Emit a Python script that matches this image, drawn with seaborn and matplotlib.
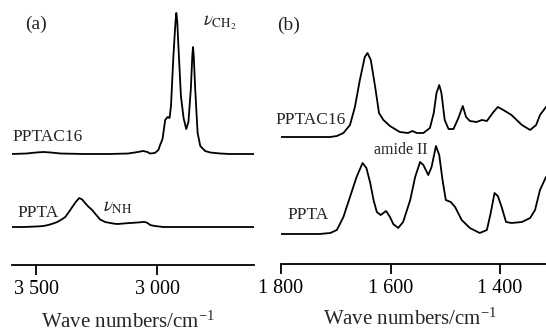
import matplotlib
matplotlib.use("Agg")
import matplotlib.pyplot as plt
import matplotlib.ticker as mticker
import seaborn as sns

# (a) high wavenumber region (a.u. above baseline)
a_wn_pptac16 = [3600, 3540, 3500, 3470, 3440, 3400, 3300, 3200, 3120, 3080, 3058, 3040,
                3030, 3010, 2995, 2988, 2978, 2967, 2957, 2949, 2943, 2933, 2925, 2921,
                2917, 2912, 2902, 2891, 2880, 2871, 2861, 2855, 2852, 2849, 2843, 2833,
                2822, 2802, 2781, 2740, 2700, 2650, 2600]
a_abs_pptac16 = [0.0, 0.005, 0.015, 0.02, 0.015, 0.005, 0.0, 0.0, 0.005, 0.02, 0.03, 0.02,
                 0.005, 0.01, 0.04, 0.09, 0.15, 0.34, 0.37, 0.36, 0.48, 0.98, 1.30, 1.41,
                 1.32, 1.06, 0.58, 0.36, 0.25, 0.32, 0.65, 0.98, 1.07, 0.98, 0.65, 0.21,
                 0.08, 0.03, 0.015, 0.005, 0.0, 0.0, 0.0]
a_wn_ppta = [3600, 3550, 3500, 3470, 3450, 3430, 3413, 3395, 3380, 3365, 3351, 3335,
             3322, 3310, 3298, 3285, 3269, 3250, 3236, 3215, 3194, 3175, 3161, 3140,
             3112, 3080, 3060, 3050, 3040, 3029, 3010, 2975, 2900, 2800, 2700, 2600]
a_abs_ppta = [0.0, 0.0, 0.005, 0.01, 0.02, 0.035, 0.05, 0.075, 0.10, 0.15, 0.20, 0.255,
              0.29, 0.275, 0.24, 0.205, 0.17, 0.115, 0.075, 0.05, 0.04, 0.032, 0.03, 0.035,
              0.04, 0.045, 0.05, 0.05, 0.04, 0.02, 0.01, 0.0, 0.0, 0.0, 0.0, 0.0]

# (b) fingerprint region
b_wn_pptac16 = [1800, 1760, 1730, 1710, 1698, 1686, 1674, 1665, 1656, 1647, 1642, 1636,
                1628, 1621, 1613, 1601, 1583, 1568, 1560, 1552, 1540, 1528, 1521, 1516,
                1511, 1507, 1501, 1494, 1485, 1476, 1468, 1462, 1455, 1443, 1433, 1424,
                1412, 1404, 1394, 1379, 1360, 1345, 1334, 1327, 1316]
b_abs_pptac16 = [0.0, 0.0, 0.0, 0.0, 0.01, 0.04, 0.12, 0.30, 0.57, 0.80, 0.84, 0.77,
                 0.50, 0.24, 0.17, 0.11, 0.05, 0.04, 0.06, 0.04, 0.04, 0.09, 0.24, 0.44,
                 0.52, 0.44, 0.17, 0.08, 0.08, 0.19, 0.31, 0.20, 0.16, 0.15, 0.17, 0.16,
                 0.25, 0.30, 0.27, 0.22, 0.12, 0.07, 0.12, 0.22, 0.30]
b_wn_ppta = [1800, 1760, 1730, 1710, 1698, 1686, 1674, 1662, 1651, 1644, 1637, 1631,
             1625, 1618, 1608, 1601, 1595, 1586, 1577, 1564, 1555, 1546, 1540, 1531,
             1525, 1517, 1511, 1505, 1499, 1490, 1482, 1470, 1455, 1437, 1424, 1417,
             1410, 1404, 1397, 1389, 1379, 1360, 1345, 1336, 1327, 1316]
b_abs_ppta = [0.0, 0.0, 0.0, 0.01, 0.04, 0.17, 0.37, 0.57, 0.71, 0.66, 0.51, 0.34,
              0.22, 0.19, 0.23, 0.17, 0.10, 0.06, 0.12, 0.34, 0.57, 0.72, 0.69, 0.59,
              0.67, 0.88, 0.79, 0.54, 0.34, 0.32, 0.27, 0.14, 0.06, 0.01, 0.04, 0.21,
              0.41, 0.38, 0.27, 0.12, 0.11, 0.12, 0.16, 0.24, 0.44, 0.57]

# vertical offsets used to stack the traces
offset_a = {"PPTAC16": 1.11, "PPTA": 0.38}
offset_b = {"PPTAC16": 1.27, "PPTA": 0.30}

sns.set_style("white")
plt.rcParams["font.family"] = ["Liberation Serif", "DejaVu Serif"]
plt.rcParams["mathtext.fontset"] = "stix"

W, H = 546, 333
fig = plt.figure(figsize=(W / 100, H / 100), dpi=100)
ax_a = fig.add_axes([12 / W, (H - 265) / H, 242 / W, 260 / H])
ax_b = fig.add_axes([281 / W, (H - 264) / H, 265 / W, 260 / H])


def thousands(v, pos):
    return f"{int(round(v)):,}".replace(",", " ")


for ax, lo, hi, ticks in [(ax_a, 3600, 2600, [3500, 3000]),
                          (ax_b, 1800, 1316, [1800, 1600, 1400])]:
    ax.set_xlim(lo, hi)
    ax.set_ylim(0, 2.6)
    ax.set_xticks(ticks)
    ax.xaxis.set_major_formatter(mticker.FuncFormatter(thousands))
    ax.set_yticks([])
    for s in ["left", "right", "top"]:
        ax.spines[s].set_visible(False)
    ax.spines["bottom"].set_linewidth(1.3)
    ax.spines["bottom"].set_color("black")
    ax.tick_params(axis="x", direction="out", length=7, width=1.3, labelsize=14.5,
                   pad=4, bottom=True, colors="black")
    ax.set_xlabel("Wave numbers/cm$^{\\mathregular{-1}}$", fontsize=15)
    ax.set_facecolor("none")

ax_a.xaxis.set_label_coords(0.48, -0.178)
ax_b.xaxis.set_label_coords(0.487, -0.17)

sns.lineplot(x=a_wn_pptac16, y=[v + offset_a["PPTAC16"] for v in a_abs_pptac16],
             ax=ax_a, color="black", lw=1.3, estimator=None)
sns.lineplot(x=a_wn_ppta, y=[v + offset_a["PPTA"] for v in a_abs_ppta],
             ax=ax_a, color="black", lw=1.3, estimator=None)
sns.lineplot(x=b_wn_pptac16, y=[v + offset_b["PPTAC16"] for v in b_abs_pptac16],
             ax=ax_b, color="black", lw=1.3, estimator=None)
sns.lineplot(x=b_wn_ppta, y=[v + offset_b["PPTA"] for v in b_abs_ppta],
             ax=ax_b, color="black", lw=1.3, estimator=None)

# labels
ax_a.text(3546, 2.41, "(a)", fontsize=14, va="center", ha="left")
ax_a.text(3600, 1.28, "PPTAC16", fontsize=12.5, va="center", ha="left")
ax_a.text(2811, 2.42, "$\\nu_{\\mathrm{CH_2}}$", fontsize=13.5, va="center", ha="left")
ax_a.text(3579, 0.52, "PPTA", fontsize=12.5, va="center", ha="left")
ax_a.text(3224, 0.57, "$\\nu_{\\mathrm{NH}}$", fontsize=13.5, va="center", ha="left")

ax_b.text(1807, 2.39, "(b)", fontsize=14, va="center", ha="left")
ax_b.text(1811, 1.44, "PPTAC16", fontsize=12.5, va="center", ha="left")
ax_b.text(1789, 0.49, "PPTA", fontsize=12.5, va="center", ha="left")
ax_b.text(1630, 1.14, "amide II", fontsize=11.5, va="center", ha="left")

fig.savefig("out.png", dpi=100)
